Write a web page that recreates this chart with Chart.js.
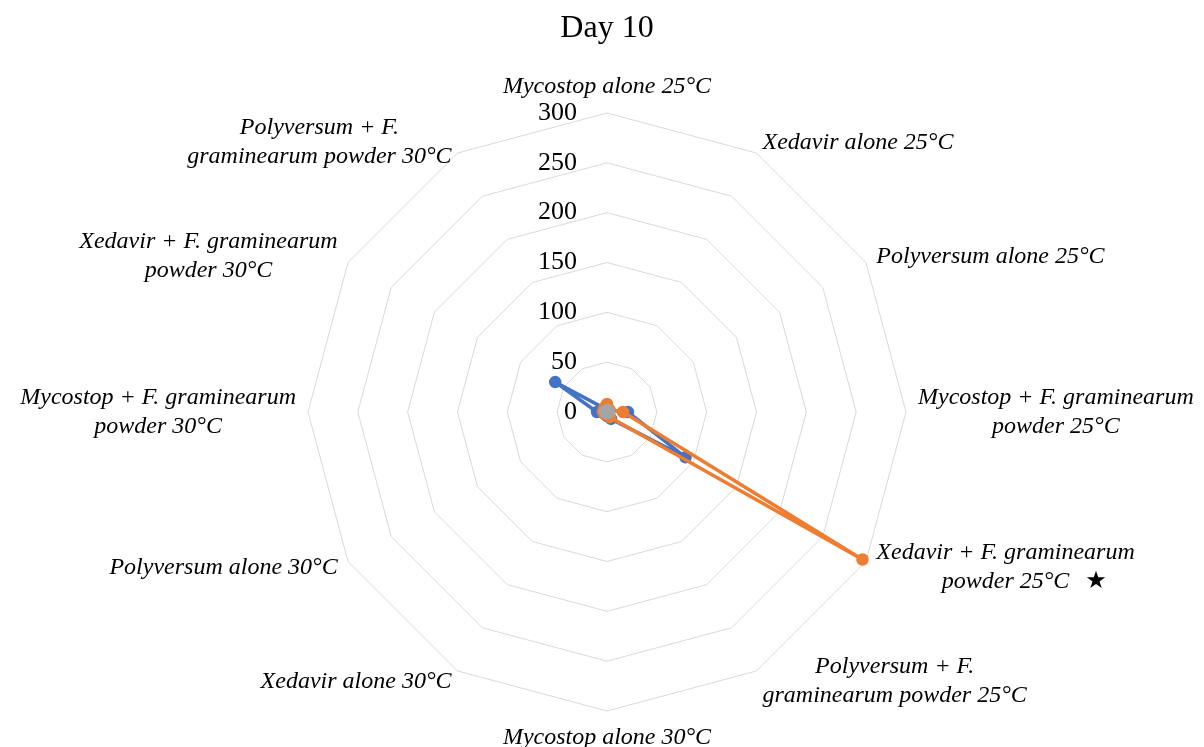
<!DOCTYPE html>
<html>
<head>
<meta charset="utf-8">
<script src="https://cdn.jsdelivr.net/npm/chart.js@4/dist/chart.umd.min.js"></script>
<style>
  html, body { margin: 0; padding: 0; background: #fff; }
  #wrap { width: 1204px; height: 747px; }
</style>
</head>
<body>
<div id="wrap"><canvas id="radarChart"></canvas></div>
<script>
const categories = [
  ['Mycostop alone 25°C'],
  ['Xedavir alone 25°C'],
  ['Polyversum alone 25°C'],
  ['Mycostop + F. graminearum', 'powder 25°C'],
  ['Xedavir + F. graminearum', 'powder 25°C'],
  ['Polyversum + F.', 'graminearum powder 25°C'],
  ['Mycostop alone 30°C'],
  ['Xedavir alone 30°C'],
  ['Polyversum alone 30°C'],
  ['Mycostop + F. graminearum', 'powder 30°C'],
  ['Xedavir + F. graminearum', 'powder 30°C'],
  ['Polyversum + F.', 'graminearum powder 30°C']
];
// significance marks after a label
const marks = ['', '', '', '', '★', '', '', '', '', '', '', ''];

const series1 = [3, 3, 3, 21, 91, 8, 4, 3, 3, 10, 60, 4];
const series2 = [8, 3, 3, 16, 296, 6, 3, 3, 3, 4, 4, 5];
const series3 = [2, 2, 1, 2, 2, 1, 1, 1, 1, 2, 2, 1];

const tickMax = 300;
const tickStep = 50;

const serif = '"Liberation Serif", "Times New Roman", serif';

// tick numbers sit left of the top axis, category labels placed like Excel
const labelPlugin = {
  id: 'excelLabels',
  beforeDatasetsDraw(chart) {
    const r = chart.scales.r;
    const ctx = chart.ctx;
    ctx.save();
    ctx.font = '26px ' + serif;
    ctx.fillStyle = '#000';
    ctx.textAlign = 'right';
    ctx.textBaseline = 'middle';
    r.ticks.forEach(t => {
      const d = r.getDistanceFromCenterForValue(t.value);
      ctx.fillText(String(t.value), r.xCenter - 30, r.yCenter - d);
    });
    ctx.restore();
  },
  afterDraw(chart) {
    const r = chart.scales.r;
    const ctx = chart.ctx;
    const lh = 29;
    ctx.save();
    ctx.fillStyle = '#000';
    ctx.textBaseline = 'middle';
    ctx.textAlign = 'center';
    categories.forEach((lines, i) => {
      ctx.font = 'italic 24px ' + serif;
      const p = r.getPointPosition(i, r.drawingArea + 12);
      const angle = 360 * i / categories.length;
      const widths = lines.map(l => ctx.measureText(l).width);
      const blockW = Math.max(...widths);
      const blockH = lines.length * lh;
      let left, top;
      if (angle === 0) { left = p.x - blockW / 2; top = p.y - blockH; }
      else if (angle === 180) { left = p.x - blockW / 2; top = p.y; }
      else if (angle < 180) { left = p.x; top = p.y - blockH / 2; }
      else { left = p.x - blockW; top = p.y - blockH / 2; }
      lines.forEach((l, j) => {
        ctx.fillText(l, left + blockW / 2, top + lh * j + lh / 2);
      });
      if (marks[i]) {
        const last = lines.length - 1;
        const endX = left + blockW / 2 + widths[last] / 2;
        ctx.font = '24px "DejaVu Sans", sans-serif';
        ctx.textAlign = 'left';
        ctx.fillText(marks[i], endX + 16, top + lh * last + lh / 2);
        ctx.textAlign = 'center';
      }
    });
    ctx.restore();
  }
};

const ctx = document.getElementById('radarChart').getContext('2d');

const chart = new Chart(ctx, {
  type: 'radar',
  data: {
    labels: categories,
    datasets: [
      {
        label: 'Series 3',
        data: series3,
        borderColor: '#A5A5A5',
        backgroundColor: '#A5A5A5',
        pointBackgroundColor: '#A5A5A5',
        borderWidth: 3.5,
        pointRadius: 4.5,
        fill: false,
        order: 1
      },
      {
        label: 'Series 2',
        data: series2,
        borderColor: '#ED7D31',
        backgroundColor: '#ED7D31',
        pointBackgroundColor: '#ED7D31',
        borderWidth: 3.5,
        pointRadius: 4.5,
        fill: false,
        order: 2
      },
      {
        label: 'Series 1',
        data: series1,
        borderColor: '#4472C4',
        backgroundColor: '#4472C4',
        pointBackgroundColor: '#4472C4',
        borderWidth: 3.5,
        pointRadius: 4.5,
        fill: false,
        order: 3
      }
    ]
  },
  options: {
    responsive: true,
    maintainAspectRatio: false,
    animation: false,
    layout: {
      padding: { left: 10, right: 0, top: 0, bottom: 36 }
    },
    plugins: {
      legend: { display: false },
      tooltip: { enabled: false },
      title: {
        display: true,
        text: 'Day 10',
        color: '#000',
        font: { family: serif, size: 32, weight: 'normal' },
        padding: { top: 9, bottom: 65.6 }
      }
    },
    scales: {
      r: {
        min: 0,
        max: tickMax,
        angleLines: { display: false },
        grid: { color: '#d9d9d9', lineWidth: 1 },
        pointLabels: { display: false },
        ticks: { display: false, stepSize: tickStep }
      }
    }
  },
  plugins: [labelPlugin]
});
</script>
</body>
</html>
